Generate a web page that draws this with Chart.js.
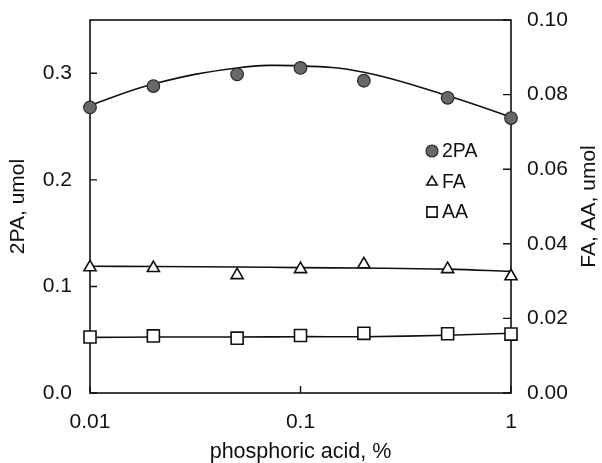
<!DOCTYPE html>
<html>
<head>
<meta charset="utf-8">
<script src="https://cdn.jsdelivr.net/npm/chart.js@4/dist/chart.umd.min.js"></script>
<style>
  body { margin: 0; background: #fff; }
  #wrap { width: 602px; height: 463px; }
</style>
</head>
<body>
<div id="wrap"><canvas id="myChart" width="602" height="463"></canvas></div>
<script>
// phosphoric acid concentration, %
const conc = [0.01, 0.02, 0.05, 0.1, 0.2, 0.5, 1];

// measured points
const pa2 = [0.268, 0.288, 0.299, 0.305, 0.293, 0.277, 0.258];
const fa = [0.0337, 0.0335, 0.0316, 0.0332, 0.0345, 0.0332, 0.0313];
const aa = [0.0150, 0.0153, 0.0147, 0.0154, 0.0160, 0.0159, 0.0158];

// fitted curves
const pa2Fit = [0.270, 0.290, 0.305, 0.307, 0.301, 0.279, 0.259];
const faFit = [0.0340, 0.0339, 0.0338, 0.0336, 0.0335, 0.0332, 0.0326];
const aaFit = [0.0149, 0.0150, 0.0150, 0.0151, 0.0151, 0.0155, 0.0160];

const xTicks = [0.01, 0.1, 1];
const leftTicks = [0, 0.1, 0.2, 0.3];
const rightTicks = [0, 0.02, 0.04, 0.06, 0.08, 0.1];

const legendItems = ["2PA", "FA", "AA"];

const FONT = "'Liberation Sans', Arial, sans-serif";
const INK = "#111";

function toPoints(xs, ys) {
  return xs.map((x, i) => ({ x: x, y: ys[i] }));
}

const markerStyles = [
  { pointStyle: "circle", radius: 6.3, backgroundColor: "#686868", borderColor: "#2a2a2a", borderWidth: 1.2 },
  { pointStyle: "triangle", radius: 7, backgroundColor: "#fff", borderColor: INK, borderWidth: 1.6 },
  { pointStyle: "rect", radius: 8.5, backgroundColor: "#fff", borderColor: INK, borderWidth: 1.6 },
];

function fitLine(ys, axis) {
  return {
    data: toPoints(conc, ys),
    yAxisID: axis,
    showLine: true,
    pointRadius: 0,
    borderColor: INK,
    borderWidth: 1.6,
    tension: 0.4,
    fill: false,
    clip: false,
    order: 2,
  };
}

function markers(ys, axis, i) {
  let m = markerStyles[i];
  return {
    data: toPoints(conc, ys),
    yAxisID: axis,
    showLine: false,
    pointStyle: m.pointStyle,
    pointRadius: m.radius,
    pointBackgroundColor: m.backgroundColor,
    pointBorderColor: m.borderColor,
    pointBorderWidth: m.borderWidth,
    clip: false,
    order: 1,
  };
}

// frame, inward ticks, right title and legend
const decorations = {
  id: "decorations",
  beforeDatasetsDraw(chart) {
    const ctx = chart.ctx;
    const a = chart.chartArea;
    ctx.save();
    ctx.strokeStyle = INK;
    ctx.lineWidth = 1.6;
    ctx.strokeRect(a.left, a.top, a.right - a.left, a.bottom - a.top);

    ctx.lineWidth = 1.4;
    ctx.beginPath();
    xTicks.forEach((v) => {
      let px = chart.scales.x.getPixelForValue(v);
      ctx.moveTo(px, a.bottom);
      ctx.lineTo(px, a.bottom - 7);
    });
    leftTicks.forEach((v) => {
      let py = chart.scales.y.getPixelForValue(v);
      ctx.moveTo(a.left, py);
      ctx.lineTo(a.left + 7, py);
    });
    rightTicks.forEach((v) => {
      let py = chart.scales.y1.getPixelForValue(v);
      ctx.moveTo(a.right, py);
      ctx.lineTo(a.right - 8, py);
    });
    ctx.stroke();
    ctx.restore();
  },
  afterDraw(chart) {
    const ctx = chart.ctx;
    const a = chart.chartArea;
    ctx.save();
    ctx.fillStyle = INK;
    ctx.font = "21px " + FONT;
    ctx.textAlign = "center";
    ctx.textBaseline = "middle";
    ctx.translate(589, (a.top + a.bottom) / 2);
    ctx.rotate(-Math.PI / 2);
    ctx.fillText("FA, AA, umol", 0, 0);
    ctx.restore();

    ctx.save();
    const rows = [151, 182, 212];
    legendItems.forEach((label, i) => {
      let m = markerStyles[i];
      ctx.fillStyle = m.backgroundColor;
      ctx.strokeStyle = m.borderColor;
      ctx.lineWidth = m.borderWidth;
      Chart.helpers.drawPoint(ctx, {
        pointStyle: m.pointStyle,
        radius: m.pointStyle === "circle" ? 6 : m.radius * 0.85,
        borderWidth: m.borderWidth,
        rotation: 0,
      }, 432, rows[i]);
      ctx.fillStyle = INK;
      ctx.font = "19.5px " + FONT;
      ctx.textAlign = "left";
      ctx.textBaseline = "middle";
      ctx.fillText(label, 442, rows[i] + 1);
    });
    ctx.restore();
  },
};

function noVerticalPadding(scale) {
  scale.paddingTop = 0;
  scale.paddingBottom = 0;
}

const ctx = document.getElementById("myChart");

new Chart(ctx, {
  type: "scatter",
  data: {
    datasets: [
      fitLine(pa2Fit, "y"),
      fitLine(faFit, "y1"),
      fitLine(aaFit, "y1"),
      markers(pa2, "y", 0),
      markers(fa, "y1", 1),
      markers(aa, "y1", 2),
    ],
  },
  options: {
    responsive: false,
    animation: false,
    events: [],
    layout: {
      padding: { top: 20, left: 0, right: 0, bottom: 0 },
    },
    plugins: {
      legend: { display: false },
      tooltip: { enabled: false },
    },
    scales: {
      x: {
        type: "logarithmic",
        position: "bottom",
        min: 0.01,
        max: 1,
        afterBuildTicks: (scale) => {
          scale.ticks = xTicks.map((v) => ({ value: v }));
        },
        afterFit: (scale) => {
          scale.height = 70;
          scale.paddingLeft = 0;
          scale.paddingRight = 0;
        },
        grid: { display: false, drawTicks: false },
        border: { display: false },
        ticks: {
          color: INK,
          font: { family: FONT, size: 21 },
          padding: 17,
          maxRotation: 0,
          autoSkip: false,
          callback: (v) => String(v),
        },
        title: {
          display: true,
          text: "phosphoric acid, %",
          color: INK,
          font: { family: FONT, size: 21.5, lineHeight: 1 },
          padding: 0,
        },
      },
      y: {
        position: "left",
        min: 0,
        max: 0.35,
        afterBuildTicks: (scale) => {
          scale.ticks = leftTicks.map((v) => ({ value: v }));
        },
        afterFit: (scale) => {
          scale.width = 90;
          noVerticalPadding(scale);
        },
        grid: { display: false, drawTicks: false },
        border: { display: false },
        ticks: {
          color: INK,
          font: { family: FONT, size: 21 },
          padding: 18,
          callback: (v) => v.toFixed(1),
        },
        title: {
          display: true,
          text: "2PA, umol",
          color: INK,
          font: { family: FONT, size: 21, lineHeight: 1 },
          padding: { top: 8, bottom: 0 },
        },
      },
      y1: {
        position: "right",
        min: 0,
        max: 0.1,
        afterBuildTicks: (scale) => {
          scale.ticks = rightTicks.map((v) => ({ value: v }));
        },
        afterFit: (scale) => {
          scale.width = 91;
          noVerticalPadding(scale);
        },
        grid: { display: false, drawTicks: false },
        border: { display: false },
        ticks: {
          color: INK,
          font: { family: FONT, size: 21 },
          padding: 16,
          callback: (v) => v.toFixed(2),
        },
      },
    },
  },
  plugins: [decorations],
});
</script>
</body>
</html>
